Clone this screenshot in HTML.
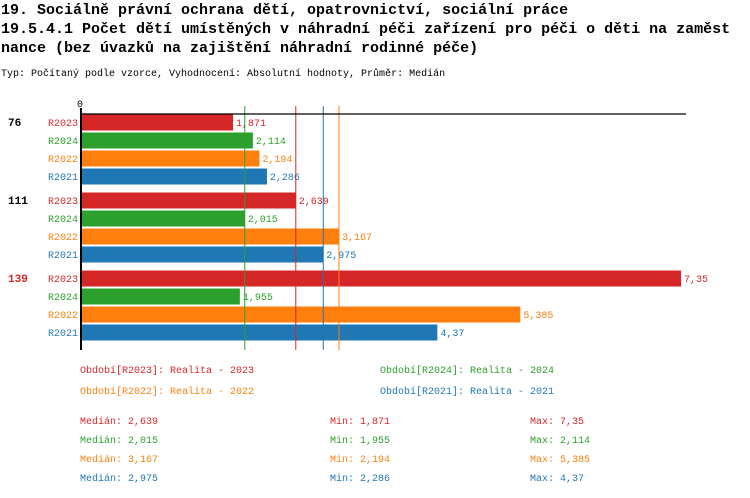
<!DOCTYPE html>
<html><head><meta charset="utf-8">
<style>
body{margin:0;background:#fff;width:750px;height:498px;overflow:hidden}
svg{display:block}
text{font-family:"Liberation Mono","DejaVu Sans Mono",monospace}
</style></head><body>
<svg id="c" width="750" height="498">
<text x="1" y="14" font-size="15" font-weight="bold">19. Sociálně právní ochrana dětí, opatrovnictví, sociální práce</text>
<text x="1" y="33" font-size="15" font-weight="bold">19.5.4.1 Počet dětí umístěných v náhradní péči zařízení pro péči o děti na zaměst</text>
<text x="1" y="52" font-size="15" font-weight="bold">nance (bez úvazků na zajištění náhradní rodinné péče)</text>
<text x="1" y="76" font-size="10">Typ: Počítaný podle vzorce, Vyhodnocení: Absolutní hodnoty, Průměr: Medián</text>
<text x="77" y="107" font-size="10">0</text>
<g id="marks"></g>
<line x1="80" y1="114" x2="686" y2="114" stroke="#000" stroke-width="1.3"/>
<line x1="81" y1="108" x2="81" y2="350" stroke="#000" stroke-width="2"/>
<g id="legend"></g>
</svg>
<script>
const groups=["76","111","139"];
const series=["R2023","R2024","R2022","R2021"];
const values=[[1.871,2.114,2.194,2.286],[2.639,2.015,3.167,2.975],[7.35,1.955,5.385,4.37]];
const labels=[["1,871","2,114","2,194","2,286"],["2,639","2,015","3,167","2,975"],["7,35","1,955","5,385","4,37"]];
const medians=[2.639,2.015,3.167,2.975];
const medianLabels=["2,639","2,015","3,167","2,975"];
const minLabels=["1,871","1,955","2,194","2,286"];
const maxLabels=["7,35","2,114","5,385","4,37"];
const legendNames=["Období[R2023]: Realita - 2023","Období[R2024]: Realita - 2024","Období[R2022]: Realita - 2022","Období[R2021]: Realita - 2021"];
const colors=["#d62728","#2ca02c","#ff7f0e","#1f77b4"];
const NS="http://www.w3.org/2000/svg";
const X=v=>80+v*81.77;
const Y=(g,s)=>114+g*78+s*18;
const m=document.getElementById('marks');
function mk(tag,attrs,parent,txt){const e=document.createElementNS(NS,tag);for(const k in attrs)e.setAttribute(k,attrs[k]);if(txt!==undefined)e.textContent=txt;parent.appendChild(e);return e;}
groups.forEach((g,gi)=>{
  const gl=mk('text',{x:8,y:Y(gi,0)+12,'font-size':11,'font-weight':'bold',fill:gi==2?'#d62728':'#000'},m,g);
  
  
  series.forEach((s,si)=>{
    const y=Y(gi,si);
    const b=mk('rect',{x:82,y:y+0.5,width:X(values[gi][si])-82,height:16,fill:colors[si]},m);
    
    
    const t=mk('text',{x:78,y:y+12,'font-size':10,fill:colors[si],'text-anchor':'end'},m,s);
    
    
    const v=mk('text',{x:X(values[gi][si])+3,y:y+12,'font-size':10,fill:colors[si]},m,labels[gi][si]);
    
    
  });
});
medians.forEach((md,i)=>{
  const l=mk('line',{x1:X(md),y1:106,x2:X(md),y2:350,stroke:colors[i],'stroke-width':1},m);
  
  
});
const lg=document.getElementById('legend');
legendNames.forEach((n,i)=>{
  const t=mk('text',{x:i%2?380:80,y:i<2?373:394,'font-size':10,fill:colors[i]},lg,n);
  
  
});
series.forEach((s,i)=>{
  const y=424+i*19;
  const a=mk('text',{x:80,y:y,'font-size':10,fill:colors[i]},lg,'Medián: '+medianLabels[i]);
  
  
  const b=mk('text',{x:330,y:y,'font-size':10,fill:colors[i]},lg,'Min: '+minLabels[i]);
  
  
  const c=mk('text',{x:530,y:y,'font-size':10,fill:colors[i]},lg,'Max: '+maxLabels[i]);
  
  
});
</script>
</body></html>
